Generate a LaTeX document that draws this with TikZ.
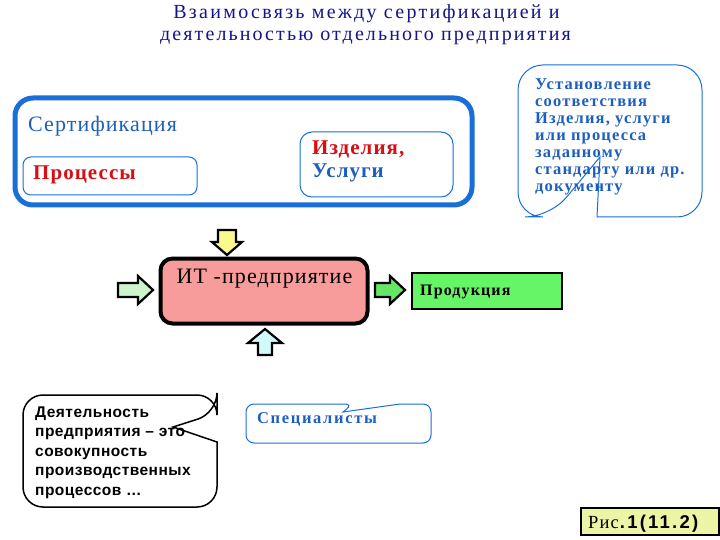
\documentclass[tikz,border=0pt]{standalone}
\usepackage{fontspec}
\setmainfont{Liberation Serif}
\setsansfont{Liberation Sans}
\newcommand{\lsp}[1]{\addfontfeatures{LetterSpace=#1}}
\definecolor{titleblue}{RGB}{20,20,140}
\definecolor{frameblue}{RGB}{25,110,215}
\definecolor{textblue}{RGB}{30,95,190}
\definecolor{boxred}{RGB}{215,15,20}
\definecolor{pinkfill}{RGB}{247,155,155}
\definecolor{prodgreen}{RGB}{102,245,102}
\definecolor{lightgreen}{RGB}{205,245,205}
\definecolor{arrowgreen}{RGB}{102,230,102}
\definecolor{arrowyellow}{RGB}{250,250,140}
\definecolor{arrowcyan}{RGB}{210,250,250}
\definecolor{figfill}{RGB}{236,245,165}
\begin{document}
\begin{tikzpicture}[x=1pt,y=-1pt,
  blockarrow/.style={draw=black,line width=2.2pt,line join=miter},
  thinblue/.style={draw=frameblue,line width=1pt},
  lbl/.style={inner sep=0pt,anchor=base west},
]
\useasboundingbox (0,0) rectangle (720,540);
% title
\node[inner sep=0pt,anchor=base,text=titleblue,font=\fontsize{20}{22}\selectfont\lsp{11.5}] (title1) at (366.5,18.5) {Взаимосвязь между сертификацией и};
\node[inner sep=0pt,anchor=base,text=titleblue,font=\fontsize{20}{22}\selectfont\lsp{10.5}] (title2) at (365.5,40.5) {деятельностью отдельного предприятия};
% certification frame
\node[draw=frameblue,line width=5pt,rounded corners=18pt,minimum width=457pt,minimum height=107pt,inner sep=0pt] (cert) at (243.5,151.5) {};
\node[lbl,text=textblue,font=\fontsize{22}{24}\selectfont\lsp{5}] (certt) at (28,132) {Сертификация};
\node[thinblue,rounded corners=8pt,minimum width=174pt,minimum height=38pt,inner sep=0pt] (proc) at (110,176) {};
\node[lbl,text=boxred,font=\fontsize{21}{23}\selectfont\bfseries\lsp{5}] (proct) at (33,180) {Процессы};
\node[thinblue,rounded corners=12pt,minimum width=153pt,minimum height=65pt,inner sep=0pt] (izd) at (376.5,164.5) {};
\node[lbl,text=boxred,font=\fontsize{21}{23}\selectfont\bfseries\lsp{5}] (izdt1) at (312,155) {Изделия,};
\node[lbl,text=textblue,font=\fontsize{21}{23}\selectfont\bfseries\lsp{5}] (izdt2) at (312,178) {Услуги};
% top-right callout
\draw[thinblue] (597,217) [rounded corners=25pt] -- (702,217) -- (702,65) -- (518,65) -- (518,217) -- (550,217) [sharp corners] -- (600,157) -- cycle;
\node[inner sep=0pt,anchor=base west,align=left,text=textblue,font=\fontsize{16.5}{17}\selectfont\bfseries\lsp{7}] (ustt) at (535,192) {Установление\\соответствия\\Изделия, услуги\\или процесса\\заданному\\стандарту или др.\\документу};
% arrows
\draw[blockarrow,fill=arrowyellow] (218,230) -- (236,230) -- (236,242) -- (242,242) -- (227,255) -- (212,242) -- (218,242) -- cycle;
\draw[blockarrow,fill=lightgreen] (118,283) -- (138,283) -- (138,276) -- (153,290) -- (138,304) -- (138,297) -- (118,297) -- cycle;
\draw[blockarrow,fill=arrowgreen] (375,283) -- (390,283) -- (390,276) -- (405,290) -- (390,304) -- (390,297) -- (375,297) -- cycle;
\draw[blockarrow,fill=arrowcyan] (258,355) -- (258,343) -- (248,343) -- (265,329) -- (282,343) -- (272,343) -- (272,355) -- cycle;
% IT box
\node[draw=black,fill=pinkfill,line width=4pt,rounded corners=12pt,minimum width=207pt,minimum height=65pt,inner sep=0pt] (it) at (264,291) {};
\node[inner sep=0pt,anchor=base,font=\fontsize{22}{24}\selectfont\lsp{5}] (itt) at (264.5,283) {ИТ -предприятие};
% product
\node[draw=black,fill=prodgreen,line width=2pt,minimum width=150pt,minimum height=36pt,inner sep=0pt] (prod) at (487,291) {};
\node[lbl,font=\fontsize{16}{17}\selectfont\bfseries\lsp{7}] (prodt) at (420,295) {Продукция};
% activity callout
\draw[draw=black,line width=1.5pt] (217,442) [rounded corners=20pt] -- (217,507) -- (23,507) -- (23,395) -- (217,395) -- (217,413) [sharp corners] -- (173,427) -- cycle;
\node[inner sep=0pt,anchor=base west,align=left,font=\sffamily\bfseries\fontsize{15.5}{19.6}\selectfont\lsp{3}] (actt) at (35,495.4) {Деятельность\\предприятия – это\\совокупность\\производственных\\процессов …};
% specialists callout
\draw[thinblue] (400,404) [rounded corners=8pt] -- (431,404) -- (431,443) -- (246,443) -- (246,404) -- (353,404) [sharp corners] -- (343,412) -- cycle;
\node[lbl,text=textblue,font=\fontsize{16.5}{18}\selectfont\bfseries\lsp{10}] (spect) at (257,423) {Специалисты};
% figure label
\node[draw=black,fill=figfill,line width=2pt,minimum width=138pt,minimum height=27pt,inner sep=0pt] (fig) at (650,521) {};
\node[lbl,font=\fontsize{18.5}{20}\selectfont\lsp{6}] (figt) at (588,528) {Рис\textsf{\bfseries\lsp{12}.1(11.2)}};
\end{tikzpicture}
\end{document}
